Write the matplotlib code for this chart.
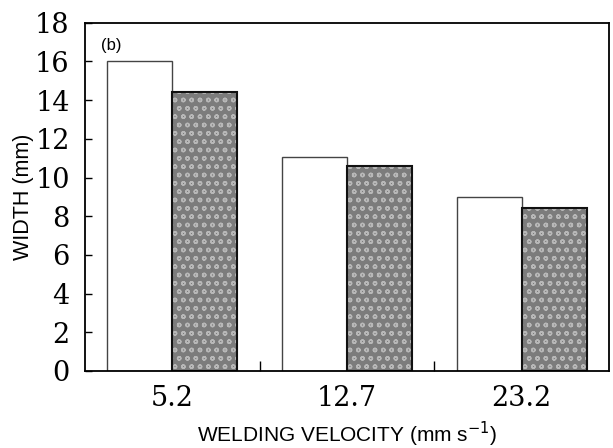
import matplotlib
matplotlib.use("Agg")
import matplotlib.pyplot as plt
import numpy as np

categories = ["5.2", "12.7", "23.2"]
white_values = [16.0, 11.05, 9.0]
grey_values = [14.4, 10.6, 8.4]
yticks = [0, 2, 4, 6, 8, 10, 12, 14, 16, 18]

fig = plt.figure(figsize=(6.13, 4.48), dpi=100)
ax = fig.add_axes([0.1387, 0.1719, 0.8548, 0.7774])

x = np.arange(len(categories))
w = 0.372
ax.bar(x - w / 2, white_values, width=w, color="white", edgecolor="#444444", linewidth=1.0)
ax.bar(x + w / 2, grey_values, width=w, color="#7c7c7c", edgecolor="#b8b8b8",
       linewidth=0, hatch="oo")
ax.bar(x + w / 2, grey_values, width=w, fill=False, edgecolor="#111111", linewidth=1.5)

ax.set_xlim(-0.5, 2.5)
ax.set_ylim(0, 18)
ax.set_yticks(yticks)
ax.set_yticklabels([str(t) for t in yticks], fontfamily="DejaVu Serif", fontsize=19.5)
ax.set_xticks(x)
ax.set_xticklabels(categories, fontfamily="DejaVu Serif", fontsize=19.5)
ax.set_xticks([0.5, 1.5], minor=True)
ax.tick_params(axis="x", which="major", length=0, pad=10)
ax.tick_params(axis="x", which="minor", direction="in", length=7, width=1)
ax.tick_params(axis="y", direction="in", length=5, width=1, pad=11)

for s in ax.spines.values():
    s.set_linewidth(1.3)

ax.set_ylabel("WIDTH (mm)", fontfamily="Liberation Sans", fontsize=15.5, labelpad=1)
ax.set_xlabel("WELDING VELOCITY (mm s$^{-1}$)", fontfamily="Liberation Sans",
              fontsize=15, va="baseline")
ax.xaxis.set_label_coords(0.5, -0.205)
ax.text(0.03, 0.955, "(b)", transform=ax.transAxes, fontfamily="Liberation Sans",
        fontsize=12, va="top", ha="left")

fig.savefig("out.png", dpi=100)
